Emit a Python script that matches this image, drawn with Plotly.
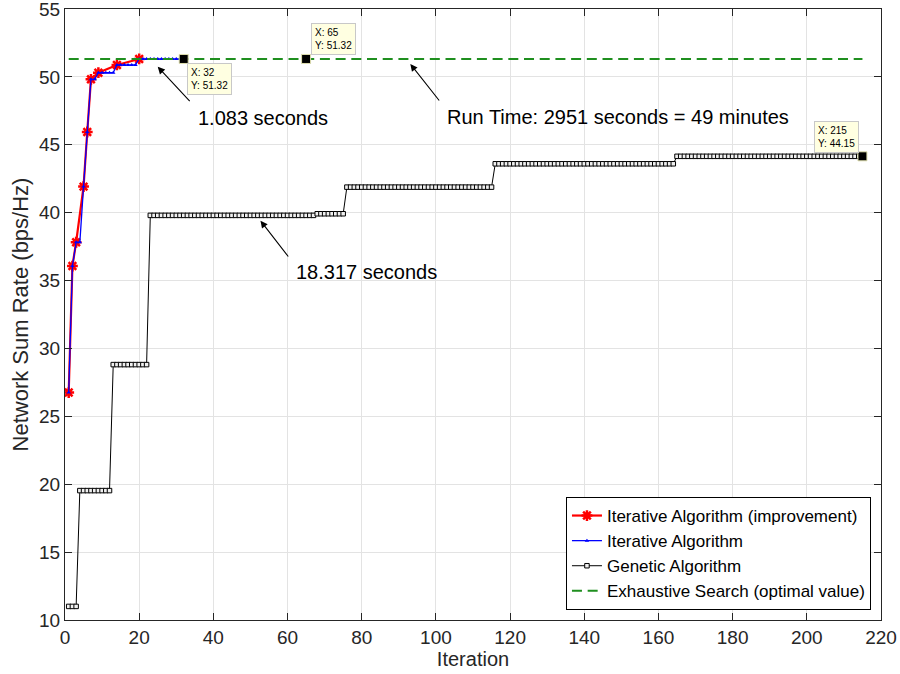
import plotly.graph_objects as go

# ---- data ----
imp_x = [1, 2, 3, 5, 6, 7, 9, 14, 20]
imp_y = [26.75, 36.07, 37.82, 41.92, 45.94, 49.82, 50.31, 50.88, 51.32]

it_x = list(range(1, 33))
it_y = [26.75, 36.07, 37.82, 37.82, 41.92, 45.94, 49.82, 49.82, 50.31, 50.31,
        50.31, 50.31, 50.31, 50.88, 50.88, 50.88, 50.88, 50.88, 50.88, 51.32,
        51.32, 51.32, 51.32, 51.32, 51.32, 51.32, 51.32, 51.32, 51.32, 51.32,
        51.32, 51.32]

# genetic algorithm: (first iteration, last iteration, value) of each plateau
ga_steps = [(1, 3, 11.0), (4, 12, 19.53), (13, 22, 28.81), (23, 67, 39.80),
            (68, 75, 39.92), (76, 115, 41.88), (116, 164, 43.60), (165, 215, 44.15)]
ga_x, ga_y = [], []
for a, b, v in ga_steps:
    for i in range(a, b + 1):
        ga_x.append(i)
        ga_y.append(v)

opt_value = 51.32
opt_x = [1, 215]

tips_x = [32, 65, 215]
tips_y = [51.32, 51.32, 44.15]

tick_x = list(range(0, 221, 20))
tick_y = list(range(10, 56, 5))

FONT = "Liberation Sans, Arial, Helvetica, sans-serif"
DARK = "#262626"

fig = go.Figure()

fig.add_trace(go.Scatter(
    x=imp_x, y=imp_y, mode="lines+markers", name="Iterative Algorithm (improvement)",
    line=dict(color="#ff0000", width=2.2),
    marker=dict(symbol="asterisk-open", size=9, color="#ff0000",
                line=dict(color="#ff0000", width=2.5))))

fig.add_trace(go.Scatter(
    x=it_x, y=it_y, mode="lines+markers", name="Iterative Algorithm",
    line=dict(color="#0000ff", width=1.3, shape="linear"),
    marker=dict(symbol="triangle-up", size=4, color="#0000ff")))

fig.add_trace(go.Scatter(
    x=ga_x, y=ga_y, mode="lines+markers", name="Genetic Algorithm",
    line=dict(color="#000000", width=1),
    marker=dict(symbol="square", size=4.5, color="#f0f0f0",
                line=dict(color="#000000", width=1))))

fig.add_trace(go.Scatter(
    x=opt_x, y=[opt_value, opt_value], mode="lines", name="Exhaustive Search (optimal value)",
    line=dict(color="#1f8f1f", width=2, dash="10px,5.7px")))

fig.add_trace(go.Scatter(
    x=tips_x, y=tips_y, mode="markers", showlegend=False, hoverinfo="skip",
    marker=dict(symbol="square", size=9, color="#000000",
                line=dict(color="#e0e0b0", width=1))))

annotations = []
# data tips
tip_boxes = [(33.0, 51.02), (66.4, 53.97), (201.9, 46.75)]
for (bx, by), tx, ty in zip(tip_boxes, tips_x, tips_y):
    annotations.append(dict(
        x=bx, y=by, xref="x", yref="y", xanchor="left", yanchor="top",
        text=f"X: {tx}<br>Y: {ty:.2f}", showarrow=False, align="left",
        font=dict(family=FONT, size=10, color="#000000"),
        bgcolor="#ffffe1", bordercolor="#c8c8c8", borderwidth=1, borderpad=3))

# arrows (head, tail)
arrows = [((25.0, 50.75), (34.0, 48.10)),
          ((93.1, 50.95), (101.2, 48.15)),
          ((52.7, 39.41), (60.5, 36.66))]
for (hx, hy), (tx, ty) in arrows:
    annotations.append(dict(
        x=hx, y=hy, ax=tx, ay=ty, xref="x", yref="y", axref="x", ayref="y",
        text="", showarrow=True, arrowhead=2, arrowsize=1.3, arrowwidth=1.1,
        arrowcolor="#000000", standoff=0, startstandoff=0))

labels = [(35.4, 46.99, "1.083 seconds"),
          (102.5, 47.07, "Run Time: 2951 seconds = 49 minutes"),
          (61.8, 35.65, "18.317 seconds")]
for lx, ly, t in labels:
    annotations.append(dict(
        x=lx, y=ly, xref="x", yref="y", xanchor="left", yanchor="middle",
        text=t, showarrow=False, font=dict(family=FONT, size=20, color="#000000")))

fig.update_layout(
    width=900, height=674,
    margin=dict(l=65, r=19, t=9, b=54),
    paper_bgcolor="#ffffff", plot_bgcolor="#ffffff",
    font=dict(family=FONT, size=17, color=DARK),
    showlegend=True,
    legend=dict(x=0.9877, y=0.0164, xanchor="right", yanchor="bottom",
                bgcolor="#ffffff", bordercolor="#000000", borderwidth=1,
                font=dict(family=FONT, size=17, color="#000000"),
                tracegroupgap=0, itemwidth=30),
    annotations=annotations,
    xaxis=dict(range=[0, 220], tickvals=tick_x, showgrid=True, gridcolor="#e3e3e3",
               gridwidth=1, zeroline=False, showline=True, linecolor=DARK, linewidth=1,
               mirror="ticks", ticks="inside", ticklen=7, tickcolor=DARK, automargin=False,
               ticklabeloverflow="allow",
               tickfont=dict(family=FONT, size=19, color=DARK),
               title=dict(text="Iteration", font=dict(family=FONT, size=20, color=DARK),
                          standoff=4)),
    yaxis=dict(range=[10, 55], tickvals=tick_y, showgrid=True, gridcolor="#e3e3e3",
               gridwidth=1, zeroline=False, showline=True, linecolor=DARK, linewidth=1,
               mirror="ticks", ticks="inside", ticklen=7, tickcolor=DARK, automargin=False,
               ticklabeloverflow="allow",
               tickfont=dict(family=FONT, size=19, color=DARK),
               title=dict(text="Network Sum Rate (bps/Hz)",
                          font=dict(family=FONT, size=22, color=DARK), standoff=4)),
)

fig.write_html("out.html")
